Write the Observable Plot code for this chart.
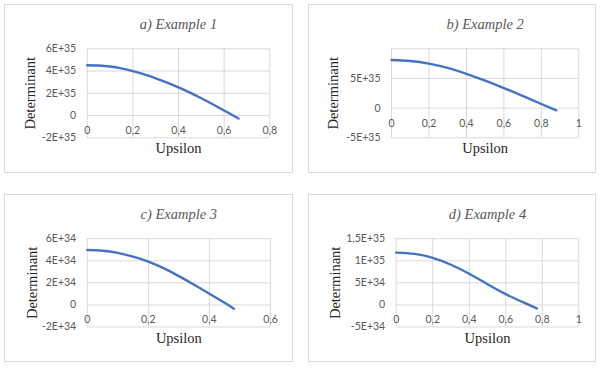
<!DOCTYPE html>
<html>
<head>
<meta charset="utf-8">
<script src="https://cdn.jsdelivr.net/npm/d3@7"></script>
<script src="https://cdn.jsdelivr.net/npm/@observablehq/plot@0.6"></script>
<style>
  html, body { margin: 0; padding: 0; background: #fff; }
  #root { position: relative; width: 600px; height: 372px; overflow: hidden; }
  .panel { position: absolute; box-sizing: border-box; border: 1px solid #d9d9d9; }
  .chart { position: absolute; }
  .chart svg { overflow: visible; }
</style>
</head>
<body>
<div id="root"></div>
<script>
// ---- Data ----
const titles = ["a) Example 1", "b) Example 2", "c) Example 3", "d) Example 4"];
const xLabelText = "Upsilon";
const yLabelText = "Determinant";

const uA = [0, 0.05, 0.1, 0.15, 0.2, 0.25, 0.3, 0.35, 0.4, 0.45, 0.5, 0.55, 0.6, 0.663];
const detA = [4.52e35, 4.50e35, 4.41e35, 4.24e35, 4.00e35, 3.70e35, 3.35e35, 2.96e35, 2.53e35, 2.06e35, 1.55e35, 1.01e35, 0.45e35, -0.27e35];

const uB = [0, 0.1, 0.2, 0.3, 0.4, 0.5, 0.6, 0.7, 0.8, 0.88];
const detB = [8.12e35, 7.95e35, 7.50e35, 6.77e35, 5.78e35, 4.63e35, 3.38e35, 2.05e35, 0.70e35, -0.38e35];

const uC = [0, 0.05, 0.1, 0.15, 0.2, 0.25, 0.3, 0.35, 0.4, 0.45, 0.48];
const detC = [4.97e34, 4.91e34, 4.71e34, 4.38e34, 3.93e34, 3.33e34, 2.61e34, 1.83e34, 1.02e34, 0.19e34, -0.35e34];

const uD = [0, 0.1, 0.2, 0.3, 0.4, 0.5, 0.6, 0.7, 0.77];
const detD = [11.85e34, 11.55e34, 10.65e34, 9.10e34, 7.05e34, 4.70e34, 2.45e34, 0.50e34, -0.80e34];

const xTicksA = [0, 0.2, 0.4, 0.6, 0.8];
const xLabelsA = ["0", "0,2", "0,4", "0,6", "0,8"];
const yTicksA = [-2e35, 0, 2e35, 4e35, 6e35];
const yLabelsA = ["-2E+35", "0", "2E+35", "4E+35", "6E+35"];

const xTicksB = [0, 0.2, 0.4, 0.6, 0.8, 1];
const xLabelsB = ["0", "0,2", "0,4", "0,6", "0,8", "1"];
const yTicksB = [-5e35, 0, 5e35, 1e36];
const yLabelsB = ["-5E+35", "0", "5E+35", ""];

const xTicksC = [0, 0.2, 0.4, 0.6];
const xLabelsC = ["0", "0,2", "0,4", "0,6"];
const yTicksC = [-2e34, 0, 2e34, 4e34, 6e34];
const yLabelsC = ["-2E+34", "0", "2E+34", "4E+34", "6E+34"];

const xTicksD = [0, 0.2, 0.4, 0.6, 0.8, 1];
const xLabelsD = ["0", "0,2", "0,4", "0,6", "0,8", "1"];
const yTicksD = [-5e34, 0, 5e34, 1e35, 1.5e35];
const yLabelsD = ["-5E+34", "0", "5E+34", "1E+35", "1,5E+35"];

// ---- Layout ----
const panels = [
  {title: titles[0], u: uA, d: detA, xt: xTicksA, xl: xLabelsA, yt: yTicksA, yl: yLabelsA,
   box: [4, 4, 289, 169], m: [44.3, 23.7, 35.7, 82.7], ylDx: -56.7},
  {title: titles[1], u: uB, d: detB, xt: xTicksB, xl: xLabelsB, yt: yTicksB, yl: yLabelsB,
   box: [308, 4, 288, 169], m: [44.3, 17.7, 35.7, 83], ylDx: -57.7},
  {title: titles[2], u: uC, d: detC, xt: xTicksC, xl: xLabelsC, yt: yTicksC, yl: yLabelsC,
   box: [4, 193.5, 289, 168], m: [44.2, 23, 35.5, 82.7], ylDx: -55},
  {title: titles[3], u: uD, d: detD, xt: xTicksD, xl: xLabelsD, yt: yTicksD, yl: yLabelsD,
   box: [308, 193.5, 288, 168], m: [44.2, 17.7, 35.5, 87.7], ylDx: -60.7}
];

const root = document.getElementById("root");
const serif = "'Liberation Serif', 'Times New Roman', serif";
const sans = "Lato, 'Liberation Sans', sans-serif";

for (const p of panels) {
  const [left, top, w, h] = p.box;
  const border = document.createElement("div");
  border.className = "panel";
  Object.assign(border.style, {left: left + "px", top: top + "px", width: w + "px", height: h + "px"});
  root.appendChild(border);

  const rows = p.u.map((u, i) => ({u, d: p.d[i]}));
  const chart = Plot.plot({
    width: w,
    height: h,
    marginTop: p.m[0], marginRight: p.m[1], marginBottom: p.m[2], marginLeft: p.m[3],
    style: {fontFamily: sans, fontSize: "10.5px", color: "#595959", background: "transparent"},
    x: {domain: [p.xt[0], p.xt[p.xt.length - 1]], axis: null},
    y: {domain: [p.yt[0], p.yt[p.yt.length - 1]], axis: null},
    marks: [
      Plot.gridX(p.xt, {stroke: "#d9d9d9", strokeOpacity: 1}),
      Plot.gridY(p.yt, {stroke: "#d9d9d9", strokeOpacity: 1}),
      Plot.axisY(p.yt, {tickSize: 0, tickPadding: 11, tickFormat: (d, i) => p.yl[i], label: null, fill: "#595959"}),
      Plot.text(p.xt, {x: d => d, y: () => 0, text: (d, i) => p.xl[i], dy: 15, lineAnchor: "middle", fill: "#595959"}),
      Plot.line(rows, {x: "u", y: "d", stroke: "#4472C4", strokeWidth: 2.4, curve: "natural"}),
      Plot.text([p.title], {frameAnchor: "top", dy: -24, lineAnchor: "middle", fontFamily: serif, fontStyle: "italic", fontSize: 14.5, fill: "#595959"}),
      Plot.text([yLabelText], {frameAnchor: "left", dx: p.ylDx, rotate: -90, lineAnchor: "middle", textAnchor: "middle", fontFamily: serif, fontSize: 14.5, fill: "#262626"}),
      Plot.text([xLabelText], {frameAnchor: "bottom", dy: 11, lineAnchor: "middle", fontFamily: serif, fontSize: 14.5, fill: "#262626"})
    ]
  });
  const holder = document.createElement("div");
  holder.className = "chart";
  Object.assign(holder.style, {left: left + "px", top: top + "px", width: w + "px", height: h + "px"});
  holder.appendChild(chart);
  root.appendChild(holder);
}
</script>
</body>
</html>
